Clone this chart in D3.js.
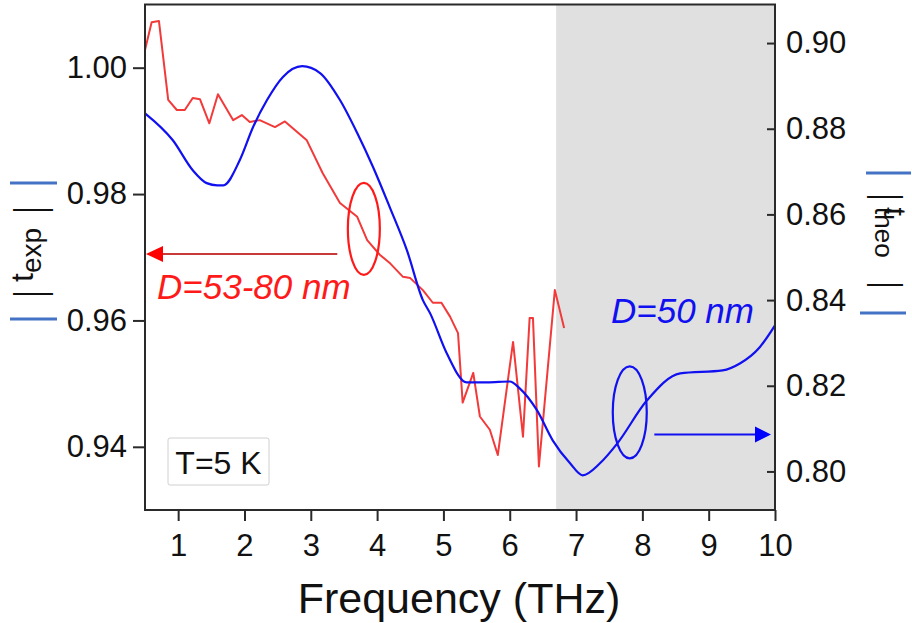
<!DOCTYPE html>
<html>
<head>
<meta charset="utf-8">
<script src="https://cdn.jsdelivr.net/npm/d3@7"></script>
<style>
  html, body { margin: 0; padding: 0; background: #fff; }
  svg { display: block; font-family: "Liberation Sans", Arial, Helvetica, sans-serif; }
</style>
</head>
<body>
<svg id="chart" width="912" height="623"></svg>
<script>
// ---- Data ----
const xTicks = [1, 2, 3, 4, 5, 6, 7, 8, 9, 10];
const leftTicks = [0.94, 0.96, 0.98, 1.00];
const rightTicks = [0.80, 0.82, 0.84, 0.86, 0.88, 0.90];

// |t_theo| (D = 50 nm), right axis
const freqTheo = [0.5, 0.92, 1.22, 1.43, 1.59, 1.68, 1.93, 2.13, 2.34, 2.58, 2.87, 3.14, 3.44, 3.70, 3.94, 4.19, 4.45, 4.69, 4.80, 5.05, 5.35, 5.66, 6.00, 6.15, 6.41, 6.65, 6.91, 7.10, 7.36, 7.62, 8.07, 8.57, 9.21, 9.47, 9.77, 10.0];
const tTheo    = [0.8836, 0.8773, 0.8703, 0.8673, 0.8668, 0.8668, 0.8727, 0.8804, 0.8867, 0.8921, 0.8946, 0.8930, 0.8867, 0.8790, 0.8710, 0.8617, 0.8516, 0.8400, 0.8369, 0.8276, 0.8208, 0.8208, 0.8210, 0.8194, 0.8143, 0.8072, 0.8019, 0.7991, 0.8019, 0.8065, 0.8166, 0.8229, 0.8236, 0.8252, 0.8290, 0.8341];

// |t_exp| (D = 53-80 nm), left axis
const freqExp = [0.5, 0.6, 0.71, 0.85, 0.98, 1.10, 1.22, 1.33, 1.47, 1.60, 1.83, 1.96, 2.08, 2.23, 2.46, 2.61, 2.94, 3.18, 3.44, 3.70, 3.85, 4.04, 4.20, 4.39, 4.50, 4.69, 4.84, 4.97, 5.10, 5.22, 5.29, 5.45, 5.55, 5.70, 5.82, 6.05, 6.20, 6.30, 6.35, 6.44, 6.68, 6.82];
const tExp    = [1.0028, 1.0072, 1.0074, 0.9949, 0.9933, 0.9933, 0.9952, 0.9950, 0.9912, 0.9958, 0.9917, 0.9925, 0.9914, 0.9917, 0.9906, 0.9915, 0.9885, 0.9833, 0.9786, 0.9764, 0.9727, 0.9704, 0.9690, 0.9669, 0.9667, 0.9648, 0.9628, 0.9628, 0.9606, 0.9580, 0.9470, 0.9517, 0.9448, 0.9427, 0.9387, 0.9566, 0.9416, 0.9604, 0.9604, 0.9369, 0.9648, 0.9588];

const shadedRange = [6.7, 10];
const labelExp = "D=53-80 nm";
const labelTheo = "D=50 nm";
const tempLabel = "T=5 K";
const xTitle = "Frequency (THz)";

// ---- Layout ----
const svg = d3.select("#chart");
const X0 = 145, X1 = 775, Y0 = 4.5, Y1 = 510;

const x = d3.scaleLinear().domain([0.5, 10]).range([X0, X1]);
const yL = d3.scaleLinear().domain([0.93, 1.01]).range([Y1, Y0]);
const yR = d3.scaleLinear().domain([0.791, 0.909]).range([Y1, Y0]);

// shaded region
svg.append("rect")
  .attr("x", x(shadedRange[0])).attr("y", Y0)
  .attr("width", x(shadedRange[1]) - x(shadedRange[0]))
  .attr("height", Y1 - Y0)
  .attr("fill", "#e0e0e0");

// lines
const lineExp = d3.line().x((d, i) => x(freqExp[i])).y(d => yL(d));
svg.append("path").datum(tExp)
  .attr("d", lineExp).attr("fill", "none")
  .attr("stroke", "#f23a3a").attr("stroke-width", 2).attr("stroke-linejoin", "round");

const lineTheo = d3.line().x((d, i) => x(freqTheo[i])).y(d => yR(d)).curve(d3.curveMonotoneX);
svg.append("path").datum(tTheo)
  .attr("d", lineTheo).attr("fill", "none")
  .attr("stroke", "#1010f0").attr("stroke-width", 2.2);

// frame
svg.append("rect")
  .attr("x", X0).attr("y", Y0).attr("width", X1 - X0).attr("height", Y1 - Y0)
  .attr("fill", "none").attr("stroke", "#2a2a2a").attr("stroke-width", 2);

// axes
const fmt = d3.format(".2f");
const axL = svg.append("g").attr("transform", `translate(${X0},0)`)
  .call(d3.axisLeft(yL).tickValues(leftTicks).tickFormat(fmt).tickSize(12).tickPadding(6));
const axR = svg.append("g").attr("transform", `translate(${X1},0)`)
  .call(d3.axisRight(yR).tickValues(rightTicks).tickFormat(fmt).tickSize(-8).tickPadding(11));
const axB = svg.append("g").attr("transform", `translate(0,${Y1})`)
  .call(d3.axisBottom(x).tickValues(xTicks).tickFormat(d3.format("d")).tickSize(11).tickPadding(13));

[axL, axR, axB].forEach(g => {
  g.select(".domain").remove();
  g.selectAll(".tick line").attr("stroke", "#2a2a2a").attr("stroke-width", 2);
  g.selectAll(".tick text").attr("fill", "#111").style("font-size", "31px")
    .style("font-family", "'Liberation Sans', Arial, sans-serif");
});

// x title
svg.append("text").attr("x", (X0 + X1) / 2 - 1).attr("y", 613)
  .attr("text-anchor", "middle").attr("fill", "#111")
  .style("font-size", "43px").text(xTitle);

// helper: thin bar glyph "|"
function bar(g, lx, ly, size) {
  g.append("text")
    .attr("transform", `translate(${lx},${ly}) scale(0.6,1)`)
    .attr("text-anchor", "middle").attr("fill", "#111")
    .style("font-size", size + "px").text("|");
}

// left y label |t_exp|
const gl = svg.append("g").attr("transform", "translate(33,252) rotate(-90)");
bar(gl, -42, 11, 42);
bar(gl, 42, 11, 42);
const tl = gl.append("text").attr("x", -30).attr("y", 0).attr("fill", "#111");
tl.append("tspan").style("font-size", "32px").text("t");
tl.append("tspan").style("font-size", "28px").attr("dy", 8).text("exp");
gl.append("line").attr("x1", 69).attr("x2", 69).attr("y1", -23).attr("y2", 24).attr("stroke", "#4472c4").attr("stroke-width", 3);
gl.append("line").attr("x1", -67).attr("x2", -67).attr("y1", -23).attr("y2", 24).attr("stroke", "#4472c4").attr("stroke-width", 3);

// right y label |t_theo|
const gr = svg.append("g").attr("transform", "translate(884,241) rotate(90)");
bar(gr, -44, 9, 39);
bar(gr, 44, 9, 39);
const tr = gr.append("text").attr("x", -34).attr("y", 0).attr("fill", "#111");
tr.append("tspan").style("font-size", "31px").text("t");
tr.append("tspan").style("font-size", "26px").attr("dy", 9).attr("dx", -9).text("theo");
gr.append("line").attr("x1", -68).attr("x2", -68).attr("y1", -27).attr("y2", 18).attr("stroke", "#4472c4").attr("stroke-width", 3);
gr.append("line").attr("x1", 72).attr("x2", 72).attr("y1", -22).attr("y2", 24).attr("stroke", "#4472c4").attr("stroke-width", 3);

// annotations: ellipses
svg.append("ellipse").attr("cx", x(3.80)).attr("cy", yL(0.9745)).attr("rx", 16).attr("ry", 46)
  .attr("fill", "none").attr("stroke", "#ff1a1a").attr("stroke-width", 2.2);
svg.append("ellipse").attr("cx", x(7.81)).attr("cy", yR(0.8138)).attr("rx", 17).attr("ry", 46)
  .attr("fill", "none").attr("stroke", "#1010f0").attr("stroke-width", 2.2);

// arrows
const ay = yL(0.9705);
svg.append("line").attr("x1", x(3.40)).attr("x2", x(0.5) + 16).attr("y1", ay).attr("y2", ay)
  .attr("stroke", "#c83a3a").attr("stroke-width", 2);
svg.append("path").attr("d", `M${x(0.5) + 1},${ay} L${x(0.5) + 18},${ay - 8} L${x(0.5) + 18},${ay + 8} Z`).attr("fill", "#ff0000");

const by = yR(0.8086);
svg.append("line").attr("x1", x(8.18)).attr("x2", x(10) - 16).attr("y1", by).attr("y2", by)
  .attr("stroke", "#1010f0").attr("stroke-width", 2);
svg.append("path").attr("d", `M${x(10) - 4},${by} L${x(10) - 20},${by - 8} L${x(10) - 20},${by + 8} Z`).attr("fill", "#0000ff");

// labels
svg.append("text").attr("x", 157).attr("y", 299).attr("fill", "#ff1a1a")
  .style("font-size", "35px").style("font-style", "italic").text(labelExp);
svg.append("text").attr("x", 611).attr("y", 323).attr("fill", "#1010f0")
  .style("font-size", "35px").style("font-style", "italic").text(labelTheo);

// T=5 K box
svg.append("rect").attr("x", 168).attr("y", 438).attr("width", 101).attr("height", 47).attr("rx", 2)
  .attr("fill", "#fff").attr("stroke", "#d0d0d0").attr("stroke-width", 1);
svg.append("text").attr("x", 218.5).attr("y", 474).attr("text-anchor", "middle").attr("fill", "#111")
  .style("font-size", "32px").text(tempLabel);
</script>
</body>
</html>
